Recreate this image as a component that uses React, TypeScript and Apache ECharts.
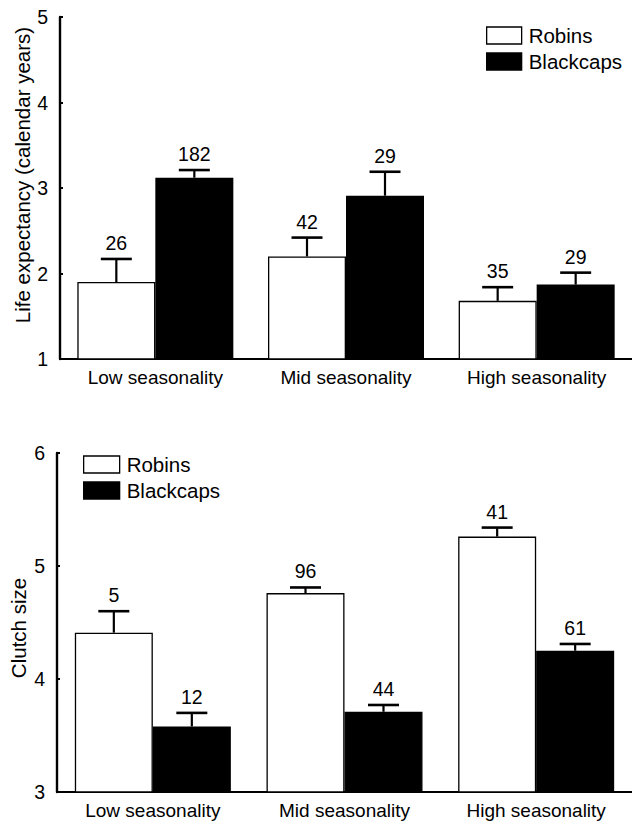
import React, { useEffect, useRef } from "react";
import * as echarts from "echarts";

const categories = ["Low seasonality", "Mid seasonality", "High seasonality"];

const lifeRobins = [1.9, 2.2, 1.68];
const lifeRobinsUpper = [2.17, 2.42, 1.84];
const lifeRobinsN = [26, 42, 35];
const lifeBlackcaps = [3.12, 2.91, 1.87];
const lifeBlackcapsUpper = [3.21, 3.19, 2.01];
const lifeBlackcapsN = [182, 29, 29];

const clutchRobins = [4.41, 4.76, 5.26];
const clutchRobinsUpper = [4.6, 4.81, 5.34];
const clutchRobinsN = [5, 96, 41];
const clutchBlackcaps = [3.58, 3.71, 4.25];
const clutchBlackcapsUpper = [3.7, 3.77, 4.31];
const clutchBlackcapsN = [12, 44, 61];

const FONT = "'Liberation Sans', Arial, Helvetica, sans-serif";
const BAR_W = 78;

function errSeries(name: string, idx: number, vals: number[], ups: number[], ns: number[], offset: number) {
  return {
    type: "custom",
    name,
    xAxisIndex: idx,
    yAxisIndex: idx,
    z: 5,
    data: vals.map((v, i) => [i, v, ups[i], ns[i]]),
    renderItem: (params: any, api: any) => {
      const i = api.value(0);
      const v = api.value(1);
      const u = api.value(2);
      const n = api.value(3);
      const p0 = api.coord([i, v]);
      const p1 = api.coord([i, u]);
      const cx = p0[0] + offset;
      return {
        type: "group",
        children: [
          { type: "line", shape: { x1: cx, y1: p0[1], x2: cx, y2: p1[1] }, style: { stroke: "#000", lineWidth: 2.2 } },
          { type: "line", shape: { x1: cx - 15.5, y1: p1[1], x2: cx + 15.5, y2: p1[1] }, style: { stroke: "#000", lineWidth: 2.6 } },
          {
            type: "text",
            x: cx,
            y: p1[1] - 6,
            style: { text: String(n), textAlign: "center", textVerticalAlign: "bottom", fontSize: 19.5, fill: "#000", fontFamily: FONT },
          },
        ],
      };
    },
  };
}

function barSeries(name: string, idx: number, vals: number[], color: string) {
  return {
    type: "bar",
    name,
    xAxisIndex: idx,
    yAxisIndex: idx,
    barWidth: BAR_W,
    barGap: "0%",
    data: vals,
    itemStyle: { color, borderColor: "#000", borderWidth: 1.3 },
  };
}

function xAxisCfg(idx: number) {
  return {
    type: "category",
    gridIndex: idx,
    data: categories,
    axisLine: { lineStyle: { color: "#000", width: 2.2 } },
    axisTick: { show: false },
    axisLabel: { color: "#000", fontSize: 19, fontFamily: FONT, margin: 9 },
  };
}

function yAxisCfg(idx: number, min: number, max: number) {
  return {
    type: "value",
    gridIndex: idx,
    min,
    max,
    interval: 1,
    splitLine: { show: false },
    axisLine: { show: true, lineStyle: { color: "#000", width: 2.4 } },
    axisTick: { show: true, inside: true, length: 3, lineStyle: { color: "#000", width: 2 } },
    axisLabel: { color: "#000", fontSize: 19.5, fontFamily: FONT, margin: 12 },
  };
}

function legendCfg(left: number, top: number, w: number) {
  return {
    orient: "vertical",
    left,
    top,
    padding: 0,
    icon: "rect",
    itemWidth: w,
    itemHeight: 17,
    itemGap: 5,
    data: ["Robins", "Blackcaps"],
    itemStyle: { borderColor: "#000", borderWidth: 1.3 },
    textStyle: { color: "#000", fontSize: 20.5, fontFamily: FONT, padding: [0, 0, 0, 2] },
    selectedMode: false,
  };
}

export default function App() {
  const ref = useRef<HTMLDivElement>(null);
  useEffect(() => {
    if (!ref.current) return;
    const chart = echarts.init(ref.current, null, { renderer: "svg" });
    chart.setOption({
      animation: false,
      backgroundColor: "#fff",
      grid: [
        { left: 60, top: 17, width: 581, height: 342 },
        { left: 57, top: 453, width: 582, height: 339 },
      ],
      legend: [legendCfg(486, 25, 35), legendCfg(83, 454, 36)],
      xAxis: [xAxisCfg(0), xAxisCfg(1)],
      yAxis: [yAxisCfg(0, 1, 5), yAxisCfg(1, 3, 6)],
      graphic: [
        {
          type: "text",
          x: 22,
          y: 175,
          rotation: Math.PI / 2,
          style: { text: "Life expectancy (calendar years)", textAlign: "center", textVerticalAlign: "middle", fontSize: 20.5, fill: "#000", fontFamily: FONT },
        },
        {
          type: "text",
          x: 18,
          y: 628,
          rotation: Math.PI / 2,
          style: { text: "Clutch size", textAlign: "center", textVerticalAlign: "middle", fontSize: 20.5, fill: "#000", fontFamily: FONT },
        },
      ],
      series: [
        barSeries("Robins", 0, lifeRobins, "#fff"),
        barSeries("Blackcaps", 0, lifeBlackcaps, "#000"),
        barSeries("Robins", 1, clutchRobins, "#fff"),
        barSeries("Blackcaps", 1, clutchBlackcaps, "#000"),
        errSeries("errLR", 0, lifeRobins, lifeRobinsUpper, lifeRobinsN, -BAR_W / 2),
        errSeries("errLB", 0, lifeBlackcaps, lifeBlackcapsUpper, lifeBlackcapsN, BAR_W / 2),
        errSeries("errCR", 1, clutchRobins, clutchRobinsUpper, clutchRobinsN, -BAR_W / 2),
        errSeries("errCB", 1, clutchBlackcaps, clutchBlackcapsUpper, clutchBlackcapsN, BAR_W / 2),
      ],
    });
    return () => chart.dispose();
  }, []);
  return <div ref={ref} style={{ position: "fixed", left: 0, top: 0, width: 632, height: 822 }} />;
}
